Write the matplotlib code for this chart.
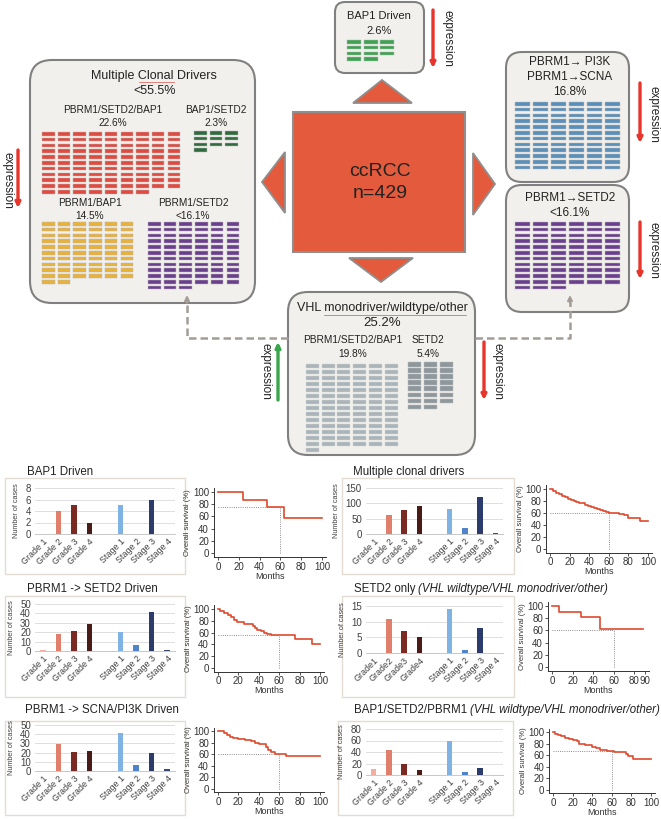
import matplotlib
matplotlib.use('Agg')
import matplotlib.pyplot as plt
from matplotlib.patches import Rectangle, FancyBboxPatch, Polygon

plt.rcParams['font.family'] = ['Liberation Sans', 'DejaVu Sans']

W, H = 661, 819

# cases per group in the diagram (ccRCC, n=429)
n_pbrm1_setd2_bap1 = 97
n_bap1_setd2 = 10
n_pbrm1_bap1 = 62
n_pbrm1_setd2 = 69
n_bap1_driven = 11
n_pbrm1_pi3k = 72
n_pbrm1_to_setd2 = 69
n_vhl_pbrm1_setd2_bap1 = 85
n_vhl_setd2 = 23

# grade / stage bar panels
bar_labels = ['Grade 1', 'Grade 2', 'Grade 3', 'Grade 4', 'Stage 1', 'Stage 2', 'Stage 3', 'Stage 4']
bar_labels_setd2 = ['Grade1', 'Grade2', 'Grade3', 'Grade4', 'Stage 1', 'Stage 2', 'Stage 3', 'Stage 4']
bap1_cases = [0, 4, 5, 2, 5, 0, 6, 0]
multi_cases = [0, 62, 79, 92, 83, 20, 122, 4]
pbrm1_setd2_cases = [1, 18, 21, 29, 20, 6, 41, 1]
setd2_only_cases = [0, 11, 7, 5, 14, 1, 8, 0]
pbrm1_scna_cases = [0, 29, 21, 22, 41, 7, 20, 2]
bsp_cases = [10, 44, 19, 9, 59, 6, 13, 0]

# Kaplan-Meier curves (months, overall survival %)
bap1_t = [0, 24, 47, 63, 100]
bap1_s = [100, 87, 76, 57, 57]
multi_t = [0, 3, 6, 9, 12, 15, 18, 21, 24, 27, 30, 33, 36, 39, 42, 45, 48, 51, 54, 57, 60, 66, 70, 74, 76, 80, 92, 100]
multi_s = [100, 97, 94, 91, 88, 86, 84, 82, 80, 79, 77, 76, 74, 72, 70, 68, 66, 65, 63, 62, 60, 60, 59, 59, 56, 51, 47, 47]
pbrm1_setd2_t = [0, 2, 6, 10, 13, 16, 19, 25, 34, 36, 38, 42, 45, 48, 52, 75, 92, 100]
pbrm1_setd2_s = [100, 97, 93, 90, 86, 82, 78, 75, 72, 68, 64, 62, 60, 57, 56, 50, 40, 40]
setd2_t = [0, 7, 28, 47, 88]
setd2_s = [100, 90, 82, 63, 63]
scna_t = [0, 6, 9, 12, 15, 20, 26, 32, 36, 40, 47, 49, 52, 56, 62, 67, 100]
scna_s = [100, 97, 93, 90, 88, 86, 85, 83, 80, 77, 72, 67, 63, 61, 60, 57, 57]
bsp_t = [0, 2, 5, 8, 12, 16, 20, 24, 27, 33, 40, 44, 48, 55, 62, 74, 77, 82, 100]
bsp_s = [100, 97, 95, 93, 90, 88, 86, 84, 80, 78, 75, 72, 69, 68, 66, 62, 58, 53, 53]
five_year = [76, 60, 56, 60, 60, 67]

bar_colors = ['#f2ada0', '#e0806c', '#7a2a22', '#4a1c18', '#7fb3e3', '#4f83cc', '#2b3b6b', '#3b4a72']
km_red = '#df4a2e'
box_face = '#f2f0ec'
box_edge = '#808080'
orange = '#e35b3c'

fig = plt.figure(figsize=(6.61, 8.19), dpi=100)
ax0 = fig.add_axes([0, 0, 1, 1])
ax0.set_xlim(0, W)
ax0.set_ylim(H, 0)
ax0.axis('off')


def rbox(x, y, w, h, r):
    ax0.add_patch(FancyBboxPatch((x, y), w, h, boxstyle=f'round,pad=0,rounding_size={r}',
                                 facecolor=box_face, edgecolor=box_edge, lw=1.5, zorder=1))


def cells(x0, y0, ncols, count, color, dx, dy, w, h, edge='#b8b8b8'):
    for i in range(count):
        r, c = divmod(i, ncols)
        ax0.add_patch(Rectangle((x0 + c * dx, y0 + r * dy), w, h, facecolor=color,
                                edgecolor=edge, lw=0.35, zorder=3))


def txt(x, y, s, size=7.3, **kw):
    ax0.text(x, y, s, fontsize=size, ha='center', va='center', color='#222222', zorder=5, **kw)


def expr_arrow(x, y1, y2, color, tx, ty):
    ax0.annotate('', xy=(x, y2), xytext=(x, y1),
                 arrowprops=dict(arrowstyle='-|>', color=color, lw=2.4, mutation_scale=7,
                                 shrinkA=0, shrinkB=0), zorder=4)
    ax0.text(tx, ty, 'expression', rotation=270, fontsize=8.5, ha='center', va='center', color='#222222')


# boxes
rbox(30, 60, 225, 243, 22)
rbox(335, 2, 89, 71, 10)
rbox(506, 52, 123, 130, 16)
rbox(506, 185, 123, 127, 16)
rbox(288, 292, 187, 163, 20)

# central square and triangles
ax0.add_patch(Rectangle((293, 112), 172, 140, facecolor=orange, edgecolor='#8f8f8f', lw=1.5, zorder=2))
for pts in ([(262, 182), (285, 152), (285, 213)],
            [(382, 80), (353, 103), (412, 103)],
            [(473, 153), (473, 215), (495, 184)],
            [(349, 258), (413, 258), (381, 282)]):
    ax0.add_patch(Polygon(pts, closed=True, facecolor=orange, edgecolor='#8f8f8f', lw=1.3, zorder=2))
txt(380, 172, 'ccRCC', 14)
txt(380, 194, 'n=429', 14)

# dashed connectors
dash_c = '#a39d96'
ax0.plot([288, 187, 187], [338, 338, 302], color=dash_c, lw=1.8, ls=(0, (3, 1.6)), zorder=4)
ax0.plot([475, 570, 570], [338, 338, 302], color=dash_c, lw=1.8, ls=(0, (3, 1.6)), zorder=4)
for xa in (187, 570):
    ax0.annotate('', xy=(xa, 295), xytext=(xa, 303),
                 arrowprops=dict(arrowstyle='-|>', color=dash_c, lw=1.5, mutation_scale=7,
                                 shrinkA=0, shrinkB=0), zorder=4)

# multiple clonal drivers
txt(154, 76, 'Multiple Clonal Drivers', 9)
ax0.plot([139, 174], [82, 82], color='#e05050', lw=0.5, zorder=5)
txt(155, 91, '<55.5%', 9)
txt(113, 110, 'PBRM1/SETD2/BAP1')
txt(113, 123, '22.6%')
txt(216, 110, 'BAP1/SETD2')
txt(216, 123, '2.3%')
txt(90, 203, 'PBRM1/BAP1')
txt(90, 216, '14.5%')
txt(193, 203, 'PBRM1/SETD2')
txt(193, 216, '<16.1%')
cells(42, 132, 9, n_pbrm1_setd2_bap1, '#e04a3f', 15.7, 5.8, 12.5, 3.6)
cells(194, 131, 3, n_bap1_setd2, '#2f6b3f', 15.5, 5.8, 12.5, 3.6)
cells(42, 222, 6, n_pbrm1_bap1, '#e8b23a', 15.7, 5.8, 12.5, 3.6)
cells(148, 222, 6, n_pbrm1_setd2, '#6b3f8f', 15.7, 5.8, 12.5, 3.6)

# BAP1 driven
txt(379, 16, 'BAP1 Driven', 8)
txt(379, 31, '2.6%', 8)
cells(347, 40, 3, n_bap1_driven, '#3da352', 16.5, 5.8, 14, 3.6)

# PBRM1 -> PI3K / SCNA
txt(570, 62, 'PBRM1\u2192 PI3K', 8.5)
txt(570, 77, 'PBRM1\u2192SCNA', 8.5)
txt(570, 92, '16.8%', 8.5)
cells(515, 102, 6, n_pbrm1_pi3k, '#5a8fba', 18, 5.8, 15, 3.6)

# PBRM1 -> SETD2
txt(570, 198, 'PBRM1\u2192SETD2', 8.5)
txt(570, 213, '<16.1%', 8.5)
cells(515, 222, 6, n_pbrm1_to_setd2, '#6b3f8f', 18, 5.8, 15, 3.6)

# VHL monodriver / wildtype / other
txt(382, 308, 'VHL monodriver/wildtype/other', 9)
ax0.plot([324, 466], [314.5, 314.5], color='#e05050', lw=0.5, zorder=5)
txt(382, 323, '25.2%', 9.5)
txt(353, 340, 'PBRM1/SETD2/BAP1')
txt(353, 354, '19.8%')
txt(428, 340, 'SETD2')
txt(428, 354, '5.4%')
cells(306, 364, 6, n_vhl_pbrm1_setd2_bap1, '#aab4b9', 15.7, 6, 13, 4, edge='#cfd4d6')
cells(408, 362, 3, n_vhl_setd2, '#8e979b', 16, 6.1, 13.3, 4.5, edge='#b9bec0')

# expression arrows
expr_arrow(18, 150, 208, '#e8352b', 7, 180)
expr_arrow(433, 10, 68, '#e8352b', 447, 38)
expr_arrow(640, 83, 143, '#e8352b', 653, 114)
expr_arrow(640, 222, 279, '#e8352b', 653, 250)
expr_arrow(278, 400, 342, '#3aa64a', 265, 371)
expr_arrow(484, 342, 400, '#e8352b', 497, 371)


def px_axes(x0, y0, x1, y1):
    return fig.add_axes([x0 / W, 1 - y1 / H, (x1 - x0) / W, (y1 - y0) / H])


def bar_panel(values, labels, ymax, step, xl, xr, yt, yb):
    ax = px_axes(xl, yt, xr, yb)
    ax.patch.set_alpha(0)
    pos = [0, 1, 2, 3, 5, 6, 7, 8]
    ax.bar(pos, values, width=0.36, color=bar_colors, zorder=3)
    ax.set_xlim(-0.5, 8.5)
    ax.set_ylim(0, ymax)
    ax.set_yticks(range(0, ymax + 1, step))
    ax.set_xticks(pos)
    ax.set_xticklabels(labels, rotation=45, ha='right', rotation_mode='anchor', fontsize=6.4, color='#404040')
    ax.tick_params(axis='y', labelsize=7, labelcolor='#404040', length=0, pad=3)
    ax.tick_params(axis='x', length=0, pad=2)
    ax.yaxis.grid(True, color='#d9d9d9', lw=0.6)
    ax.set_axisbelow(True)
    for s in ('top', 'right', 'left'):
        ax.spines[s].set_visible(False)
    ax.spines['bottom'].set_color('#bfbfbf')
    ax.spines['bottom'].set_linewidth(0.6)
    ax.set_ylabel('Number of cases', fontsize=5.2, color='#404040', labelpad=4)
    return ax


def km_panel(t, s, ref, x0, x100, y100, y0, xmax=100, xticks=(0, 20, 40, 60, 80, 100)):
    sx = (x100 - x0) / 100.0
    sy = (y0 - y100) / 100.0
    xlo, xhi, ylo, yhi = -4, xmax + 4, -6, 106
    ax = px_axes(x0 + xlo * sx, y100 - (yhi - 100) * sy, x0 + xhi * sx, y0 - ylo * sy)
    ax.patch.set_alpha(0)
    ax.step(t, s, where='post', color=km_red, lw=1.2, zorder=3)
    ax.plot([0, 60], [ref, ref], color='#666666', lw=0.6, ls=':')
    ax.plot([60, 60], [0, ref], color='#666666', lw=0.6, ls=':')
    ax.set_xlim(xlo, xhi)
    ax.set_ylim(ylo, yhi)
    ax.set_xticks(list(xticks))
    ax.set_yticks([0, 20, 40, 60, 80, 100])
    ax.tick_params(labelsize=7, length=2, width=0.6, pad=1.5, colors='#333333')
    for sp in ('top', 'right'):
        ax.spines[sp].set_visible(False)
    for sp in ('left', 'bottom'):
        ax.spines[sp].set_linewidth(0.7)
        ax.spines[sp].set_color('#333333')
    ax.set_ylabel('Overall survival (%)', fontsize=5.5, labelpad=1, color='#333333')
    ax.set_xlabel('Months', fontsize=6.5, labelpad=0, color='#333333')
    return ax


def panel_box(x0, y0, x1, y1):
    ax0.add_patch(Rectangle((x0, y0), x1 - x0, y1 - y0, facecolor='none', edgecolor='#e3dcd3', lw=1, zorder=1))


def title(x, y, normal, italic=None):
    t = ax0.text(x, y, normal, fontsize=8.3, ha='left', va='center', color='#222222')
    if italic:
        r = fig.canvas.get_renderer()
        bb = t.get_window_extent(r)
        xe = ax0.transData.inverted().transform((bb.x1, bb.y0))[0]
        ax0.text(xe + 3, y, italic, fontsize=8.3, style='italic', ha='left', va='center', color='#222222')


# row 1
panel_box(5, 478, 185, 574)
panel_box(342, 478, 514, 574)
title(27, 472, 'BAP1 Driven')
title(353, 472, 'Multiple clonal drivers')
bar_panel(bap1_cases, bar_labels, 8, 2, 35, 175, 488, 534)
bar_panel(multi_cases, bar_labels, 150, 50, 366, 503, 488, 534)
km_panel(bap1_t, bap1_s, five_year[0], 218, 322, 492, 553)
km_panel(multi_t, multi_s, five_year[1], 550, 648, 489, 549)

# row 2
panel_box(5, 596, 185, 697)
panel_box(342, 596, 514, 697)
title(27, 589, 'PBRM1 -> SETD2 Driven')
title(354, 589, 'SETD2 only', '(VHL wildtype/VHL monodriver/other)')
bar_panel(pbrm1_setd2_cases, bar_labels, 50, 10, 35, 175, 604, 651)
bar_panel(setd2_only_cases, bar_labels_setd2, 15, 5, 366, 503, 606, 653)
km_panel(pbrm1_setd2_t, pbrm1_setd2_s, five_year[2], 218, 320, 609, 668)
km_panel(setd2_t, setd2_s, five_year[3], 552, 655, 606, 667, xmax=90, xticks=(0, 20, 40, 60, 80, 90))

# row 3
panel_box(5, 721, 185, 815)
panel_box(338, 721, 513, 815)
title(25, 710, 'PBRM1 -> SCNA/PI3K Driven')
title(354, 710, 'BAP1/SETD2/PBRM1', '(VHL wildtype/VHL monodriver/other)')
bar_panel(pbrm1_scna_cases, bar_labels, 50, 10, 35, 175, 725, 771)
bar_panel(bsp_cases, bar_labels, 80, 20, 366, 503, 729, 775)
km_panel(scna_t, scna_s, five_year[4], 218, 320, 731, 789)
km_panel(bsp_t, bsp_s, five_year[5], 553, 651, 732, 790)

fig.savefig('out.png', dpi=100)
